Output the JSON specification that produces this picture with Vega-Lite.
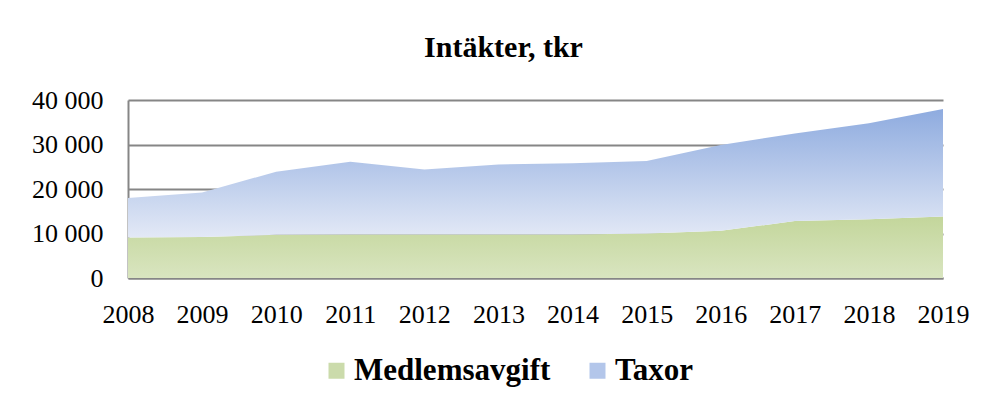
{
  "$schema": "https://vega.github.io/schema/vega-lite/v6.json",
  "width": 815,
  "height": 178,
  "autosize": {"type": "none"},
  "padding": {"left": 128, "top": 100, "right": 40, "bottom": 127},
  "background": "white",
  "title": {
    "text": "Intäkter, tkr",
    "font": "Liberation Serif",
    "fontSize": 30,
    "fontWeight": "bold",
    "color": "#000000",
    "anchor": "middle",
    "frame": "group",
    "dx": -32,
    "baseline": "alphabetic",
    "offset": 0
  },
  "data": {
    "values": [
      {"year": 2008, "series": "Medlemsavgift", "value": 9100},
      {"year": 2009, "series": "Medlemsavgift", "value": 9200},
      {"year": 2010, "series": "Medlemsavgift", "value": 9700},
      {"year": 2011, "series": "Medlemsavgift", "value": 9750},
      {"year": 2012, "series": "Medlemsavgift", "value": 9750},
      {"year": 2013, "series": "Medlemsavgift", "value": 9750},
      {"year": 2014, "series": "Medlemsavgift", "value": 9800},
      {"year": 2015, "series": "Medlemsavgift", "value": 10000},
      {"year": 2016, "series": "Medlemsavgift", "value": 10600},
      {"year": 2017, "series": "Medlemsavgift", "value": 12800},
      {"year": 2018, "series": "Medlemsavgift", "value": 13200},
      {"year": 2019, "series": "Medlemsavgift", "value": 13800},
      {"year": 2008, "series": "Taxor", "value": 8900},
      {"year": 2009, "series": "Taxor", "value": 10000},
      {"year": 2010, "series": "Taxor", "value": 14200},
      {"year": 2011, "series": "Taxor", "value": 16350},
      {"year": 2012, "series": "Taxor", "value": 14650},
      {"year": 2013, "series": "Taxor", "value": 15750},
      {"year": 2014, "series": "Taxor", "value": 16000},
      {"year": 2015, "series": "Taxor", "value": 16300},
      {"year": 2016, "series": "Taxor", "value": 19300},
      {"year": 2017, "series": "Taxor", "value": 19700},
      {"year": 2018, "series": "Taxor", "value": 21600},
      {"year": 2019, "series": "Taxor", "value": 24200}
    ]
  },
  "transform": [
    {"stack": "value", "groupby": ["year"], "sort": [{"field": "series", "order": "ascending"}], "as": ["v0", "v1"]}
  ],
  "encoding": {
    "x": {
      "field": "year",
      "type": "quantitative",
      "scale": {"domain": [2008, 2019], "nice": false, "zero": false},
      "axis": {
        "title": null,
        "values": [2008, 2009, 2010, 2011, 2012, 2013, 2014, 2015, 2016, 2017, 2018, 2019],
        "format": "d",
        "grid": false,
        "ticks": false,
        "labelBaseline": "alphabetic",
        "labelPadding": 44,
        "labelFontSize": 26,
        "labelFlush": false,
        "labelOverlap": false
      }
    }
  },
  "layer": [
    {
      "transform": [{"filter": "datum.series === 'Medlemsavgift'"}],
      "mark": {
        "type": "area",
        "fill": {"gradient": "linear", "x1": 0, "y1": 0, "x2": 0, "y2": 1,
          "stops": [{"offset": 0, "color": "#c3d69b"}, {"offset": 1, "color": "#d9e5c0"}]}
      },
      "encoding": {
        "y": {
          "field": "v1",
          "type": "quantitative",
          "scale": {"domain": [0, 40000], "nice": false},
          "axis": {
            "title": null,
            "values": [0, 10000, 20000, 30000, 40000],
            "labelExpr": "replace(format(datum.value, ','), ',', ' ')",
            "ticks": false,
            "labelPadding": 25,
            "labelFontSize": 26,
            "grid": true
          }
        },
        "y2": {"field": "v0"}
      }
    },
    {
      "transform": [{"filter": "datum.series === 'Taxor'"}],
      "mark": {
        "type": "area",
        "fill": {"gradient": "linear", "x1": 0, "y1": 0, "x2": 0, "y2": 1,
          "stops": [{"offset": 0, "color": "#8eabdf"}, {"offset": 1, "color": "#e3e9f6"}]}
      },
      "encoding": {
        "y": {"field": "v1", "type": "quantitative"},
        "y2": {"field": "v0"}
      }
    },
    {
      "mark": {"type": "square", "opacity": 0, "size": 1},
      "encoding": {
        "y": {"field": "v1", "type": "quantitative"},
        "color": {
          "field": "series",
          "type": "nominal",
          "scale": {"domain": ["Medlemsavgift", "Taxor"], "range": ["#cbdbab", "#b3c6ea"]},
          "legend": {
            "title": null,
            "orient": "none",
            "legendX": 193,
            "legendY": 255,
            "direction": "horizontal",
            "symbolType": "square",
            "symbolSize": 256,
            "symbolOpacity": 1,
            "symbolStrokeWidth": 0,
            "labelFont": "Liberation Serif",
            "labelFontSize": 31,
            "labelFontWeight": "bold",
            "labelColor": "#000000",
            "labelOffset": 2,
            "labelLimit": 0,
            "columnPadding": 31,
            "encode": {
              "symbols": {
                "update": {
                  "fill": {"signal": "datum.label === 'Taxor' ? {gradient: 'linear', x1: 0, y1: 0, x2: 0, y2: 1, stops: [{offset: 0, color: '#9ab4e3'}, {offset: 1, color: '#e3e9f6'}]} : {gradient: 'linear', x1: 0, y1: 0, x2: 0, y2: 1, stops: [{offset: 0, color: '#c3d69b'}, {offset: 1, color: '#d9e5c0'}]}"},
                  "opacity": {"value": 1}
                }
              }
            }
          }
        }
      }
    }
  ],
  "config": {
    "font": "Liberation Serif",
    "view": {"stroke": null},
    "axis": {
      "labelFont": "Liberation Serif",
      "labelColor": "#000000",
      "domainColor": "#868686",
      "domainWidth": 2,
      "gridColor": "#868686",
      "gridWidth": 2,
      "gridOpacity": 1
    }
  }
}
